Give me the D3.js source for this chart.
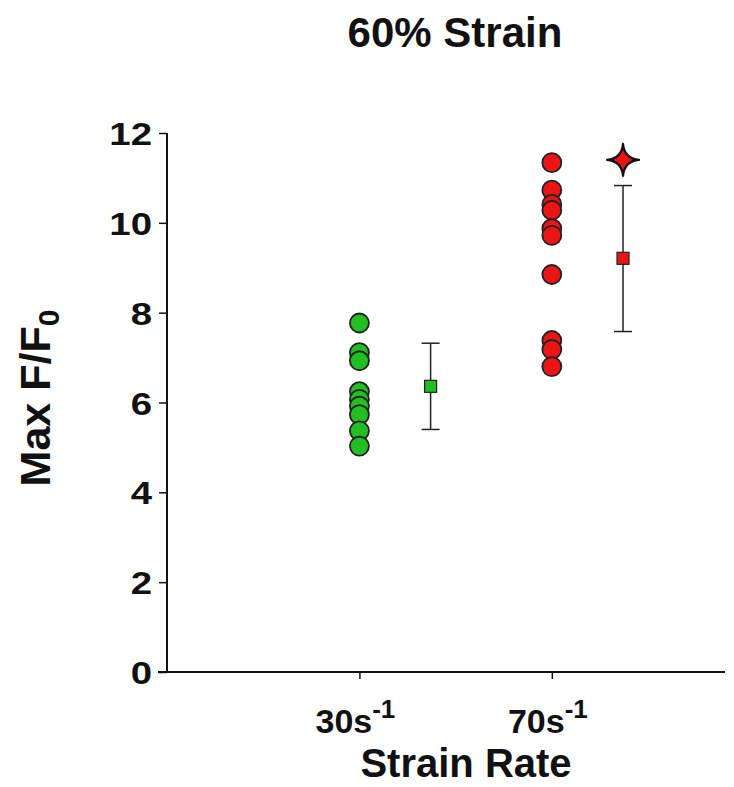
<!DOCTYPE html>
<html>
<head>
<meta charset="utf-8">
<script src="https://cdn.jsdelivr.net/npm/d3@7"></script>
<style>
  body { margin: 0; background: #fff; }
  svg text { font-family: "Liberation Sans", Arial, sans-serif; font-weight: bold; fill: #111; }
</style>
</head>
<body>
<div id="chart"></div>
<script>
// Categories (x position index) and tick labels
const categories = [1, 2];
const tickLabels = ["30", "70"];

// Individual values per strain rate
const values30 = [7.77, 7.11, 6.93, 6.24, 6.07, 5.92, 5.73, 5.37, 5.03];
const values70 = [11.34, 10.73, 10.41, 10.28, 9.87, 9.72, 8.85, 7.38, 7.18, 6.80];

// Mean +/- SD per strain rate
const means = [6.36, 9.21];
const upper = [7.32, 10.83];
const lower = [5.40, 7.58];

// Significance marker (only on 70 s^-1)
const starValue = 11.4;

const colors = ["#22be22", "#ec1515"];

const width = 734, height = 787;
const margin = {top: 133, right: 9, bottom: 115, left: 167};

const svg = d3.select("#chart").append("svg")
    .attr("width", width)
    .attr("height", height);

const x = d3.scaleLinear()
    .domain([0, 2.9])
    .range([margin.left, width - margin.right]);

const y = d3.scaleLinear()
    .domain([0, 12])
    .range([height - margin.bottom, margin.top]);

const meanOffset = 0.37;

// Axes
const yAxis = d3.axisLeft(y).tickValues(d3.range(0, 13, 2)).tickSize(8).tickPadding(0);
const yAxisG = svg.append("g")
    .attr("transform", `translate(${margin.left},0)`)
    .call(yAxis);
yAxisG.select(".domain").attr("stroke", "#111").attr("stroke-width", 2)
    .attr("d", `M0,${y(12)}V${y(0)}`);
yAxisG.selectAll(".tick line").attr("stroke", "#111").attr("stroke-width", 1.5);
// labels are slightly wide in the original, so stretch horizontally
yAxisG.selectAll(".tick text")
    .attr("x", -15 / 1.2)
    .attr("transform", "scale(1.2,1)")
    .attr("dy", "0.36em")
    .attr("fill", "#111")
    .style("font-size", "32px")
    .style("font-family", "Liberation Sans, Arial, sans-serif")
    .style("font-weight", "bold");

const xAxis = d3.axisBottom(x).tickValues(categories).tickSize(7).tickFormat("");
const xAxisG = svg.append("g")
    .attr("transform", `translate(0,${y(0)})`)
    .call(xAxis);
xAxisG.select(".domain").attr("stroke", "#111").attr("stroke-width", 2)
    .attr("d", `M${margin.left - 9},0H${width - margin.right}`);
xAxisG.selectAll(".tick line").attr("stroke", "#111").attr("stroke-width", 1.5);

// x tick labels with superscript -1
const xt = svg.append("g").selectAll("text")
    .data(categories)
  .join("text")
    .attr("x", d => x(d) - 4)
    .attr("y", y(0) + 61)
    .attr("text-anchor", "middle")
    .style("font-size", "34px");
xt.append("tspan").text((d, i) => tickLabels[i] + "s");
xt.append("tspan").attr("dy", -15).style("font-size", "26px").text("-1");

// Titles
svg.append("text")
    .attr("x", 455)
    .attr("y", 47)
    .attr("text-anchor", "middle")
    .style("font-size", "42px")
    .text("60% Strain");

svg.append("text")
    .attr("x", 466)
    .attr("y", 777)
    .attr("text-anchor", "middle")
    .style("font-size", "40px")
    .text("Strain Rate");

const yTitle = svg.append("text")
    .attr("transform", `translate(50,398) rotate(-90)`)
    .attr("text-anchor", "middle")
    .style("font-size", "43px");
yTitle.append("tspan").text("Max F/F");
yTitle.append("tspan").attr("dy", 9).style("font-size", "30px").text("0");

// Individual points
const groups = [values30, values70];
groups.forEach((vals, i) => {
  svg.append("g").selectAll("circle")
      .data(vals)
    .join("circle")
      .attr("cx", x(categories[i]))
      .attr("cy", d => y(d))
      .attr("r", 9.5)
      .attr("fill", colors[i])
      .attr("stroke", "#222")
      .attr("stroke-width", 1.8);
});

// Mean +/- SD
const summary = svg.append("g");
categories.forEach((c, i) => {
  const cx = x(c + meanOffset);
  summary.append("line")
      .attr("x1", cx).attr("x2", cx)
      .attr("y1", y(upper[i])).attr("y2", y(lower[i]))
      .attr("stroke", "#222").attr("stroke-width", 1.5);
  [upper[i], lower[i]].forEach(v => {
    summary.append("line")
        .attr("x1", cx - 9).attr("x2", cx + 9)
        .attr("y1", y(v)).attr("y2", y(v))
        .attr("stroke", "#222").attr("stroke-width", 1.5);
  });
  summary.append("rect")
      .attr("x", cx - 6).attr("y", y(means[i]) - 6)
      .attr("width", 12).attr("height", 12)
      .attr("fill", colors[i])
      .attr("stroke", "#222")
      .attr("stroke-width", 1.2);
});

// Four-point star with concave sides
const star4 = {
  draw(ctx, size) {
    const r = Math.sqrt(size) / 2, c = r * 0.08;
    ctx.moveTo(0, -r);
    ctx.quadraticCurveTo(c, -c, r, 0);
    ctx.quadraticCurveTo(c, c, 0, r);
    ctx.quadraticCurveTo(-c, c, -r, 0);
    ctx.quadraticCurveTo(-c, -c, 0, -r);
    ctx.closePath();
  }
};
svg.append("path")
    .attr("d", d3.symbol().type(star4).size(32 * 32)())
    .attr("transform", `translate(${x(2 + meanOffset)},${y(starValue)})`)
    .attr("fill", "#ee1111")
    .attr("stroke", "#111")
    .attr("stroke-width", 2.2)
    .attr("stroke-linejoin", "round");
</script>
</body>
</html>
